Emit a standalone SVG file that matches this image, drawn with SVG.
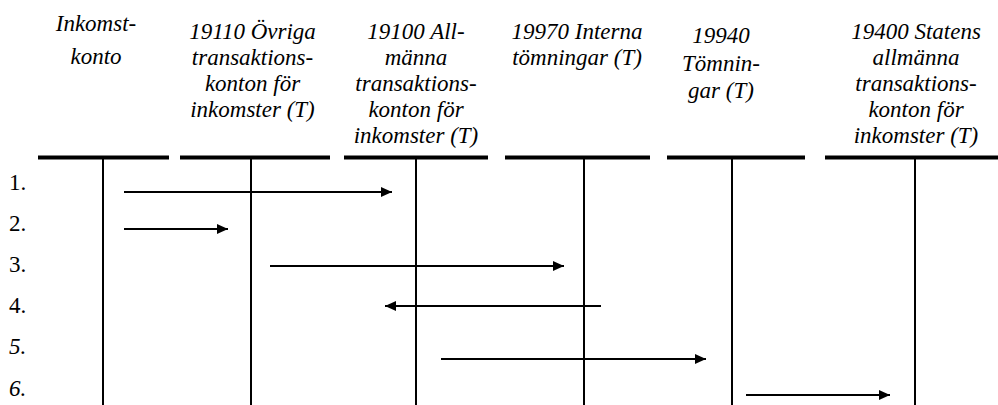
<svg xmlns="http://www.w3.org/2000/svg" width="998" height="405" viewBox="0 0 998 405">
<defs>
<style>
text{font-family:"Liberation Serif","Times New Roman",serif;fill:#000}
.h{font-style:italic;font-size:23px;text-anchor:middle}
.r{font-size:23px}
.ri{font-style:italic}
.bar{stroke:#000;stroke-width:4;fill:none}
.life{stroke:#000;stroke-width:2;fill:none}
.arr{stroke:#000;stroke-width:2;fill:none;marker-end:url(#ah)}
</style>
<marker id="ah" markerUnits="userSpaceOnUse" markerWidth="11" markerHeight="10" refX="11" refY="5" orient="auto">
<path d="M0,0 L11,5 L0,10 z" fill="#000"/>
</marker>
</defs>
<rect width="998" height="405" fill="#fff"/>
<g id="n1">
<text class="h" x="96" y="31">Inkomst-</text>
<text class="h" x="96" y="63.5">konto</text>
<line class="bar" x1="38" y1="157.5" x2="169" y2="157.5"/>
<line class="life" x1="103" y1="159" x2="103" y2="405"/>
</g>
<g id="n2">
<text class="h" x="252.5" y="38.5">19110 Övriga</text>
<text class="h" x="252.5" y="64.5">transaktions-</text>
<text class="h" x="252.5" y="90.5">konton för</text>
<text class="h" x="252.5" y="116.5">inkomster (T)</text>
<line class="bar" x1="180" y1="157.5" x2="330" y2="157.5"/>
<line class="life" x1="251" y1="159" x2="251" y2="405"/>
</g>
<g id="n3">
<text class="h" x="416" y="38.5">19100 All-</text>
<text class="h" x="416" y="64.5">männa</text>
<text class="h" x="416" y="90.5">transaktions-</text>
<text class="h" x="416" y="116.5">konton för</text>
<text class="h" x="416" y="142.5">inkomster (T)</text>
<line class="bar" x1="344" y1="157.5" x2="488" y2="157.5"/>
<line class="life" x1="416" y1="159" x2="416" y2="405"/>
</g>
<g id="n4">
<text class="h" x="577" y="38.5">19970 Interna</text>
<text class="h" x="577" y="64.5">tömningar (T)</text>
<line class="bar" x1="505" y1="157.5" x2="650" y2="157.5"/>
<line class="life" x1="584" y1="159" x2="584" y2="405"/>
</g>
<g id="n5">
<text class="h" x="721" y="43">19940</text>
<text class="h" x="721" y="71">Tömnin-</text>
<text class="h" x="721" y="98">gar (T)</text>
<line class="bar" x1="667" y1="157.5" x2="805" y2="157.5"/>
<line class="life" x1="732" y1="159" x2="732" y2="405"/>
</g>
<g id="n6">
<text class="h" x="916" y="38.5">19400 Statens</text>
<text class="h" x="916" y="64.5">allmänna</text>
<text class="h" x="916" y="90.5">transaktions-</text>
<text class="h" x="916" y="116.5">konton för</text>
<text class="h" x="916" y="142.5">inkomster (T)</text>
<line class="bar" x1="825" y1="157.5" x2="998" y2="157.5"/>
<line class="life" x1="915" y1="159" x2="915" y2="405"/>
</g>
<g id="rows">
<text class="r" x="9" y="190">1.</text>
<text class="r" x="9" y="231">2.</text>
<text class="r" x="9" y="272">3.</text>
<text class="r" x="9" y="313">4.</text>
<text class="r ri" x="9" y="354">5.</text>
<text class="r ri" x="9" y="396">6.</text>
</g>
<g id="connectors">
<line class="arr" x1="124" y1="192" x2="392" y2="192"/>
<line class="arr" x1="124" y1="229" x2="228" y2="229"/>
<line class="arr" x1="270" y1="266" x2="564" y2="266"/>
<line class="arr" x1="601" y1="306" x2="385" y2="306"/>
<line class="arr" x1="441" y1="359" x2="706" y2="359"/>
<line class="arr" x1="746" y1="395" x2="890" y2="395"/>
</g>
</svg>
